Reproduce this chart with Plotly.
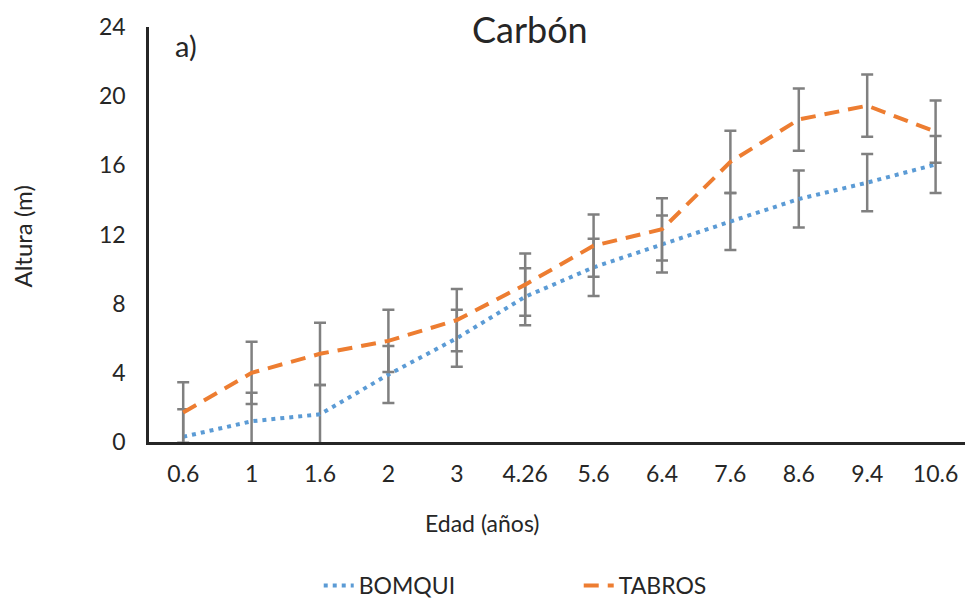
import plotly.graph_objects as go

# ---- data ----
edad = ["0.6", "1", "1.6", "2", "3", "4.26", "5.6", "6.4", "7.6", "8.6", "9.4", "10.6"]
bomqui = [0.3, 1.2, 1.6, 3.9, 6.0, 8.4, 10.1, 11.45, 12.75, 14.05, 15.0, 16.05]
bomqui_err = [1.6, 1.65, 1.7, 1.65, 1.65, 1.65, 1.65, 1.65, 1.65, 1.65, 1.65, 1.65]
tabros = [1.7, 4.0, 5.1, 5.85, 7.05, 9.1, 11.35, 12.3, 16.2, 18.65, 19.45, 17.95]
tabros_err = [1.75, 1.8, 1.8, 1.8, 1.8, 1.8, 1.8, 1.8, 1.8, 1.8, 1.8, 1.8]
y_ticks = [0, 4, 8, 12, 16, 20, 24]

FONT = "Lato"
TXT = "#262626"
ERR = "#808080"

fig = go.Figure()
fig.add_trace(go.Scatter(
    x=edad, y=bomqui, name="BOMQUI", mode="lines",
    line=dict(color="#5B9BD5", width=4, dash="4px,5px"),
    error_y=dict(type="data", array=bomqui_err, visible=True,
                 color=ERR, thickness=2.5, width=6),
))
fig.add_trace(go.Scatter(
    x=edad, y=tabros, name="TABROS", mode="lines",
    line=dict(color="#ED7D31", width=4, dash="15px,9px"),
    error_y=dict(type="data", array=tabros_err, visible=True,
                 color=ERR, thickness=2.5, width=6),
))

fig.update_layout(
    width=965, height=600,
    margin=dict(l=149, r=0, t=27, b=158, autoexpand=False),
    paper_bgcolor="white", plot_bgcolor="white",
    font=dict(family=FONT, size=23, color=TXT),
    showlegend=True,
    legend=dict(orientation="h", xref="paper", yref="container",
                x=0.208, y=0.06, xanchor="left", yanchor="top",
                entrywidth=215, entrywidthmode="pixels",
                font=dict(family=FONT, size=23, color=TXT),
                itemclick=False),
    xaxis=dict(
        type="category", categoryorder="array", categoryarray=edad,
        range=[-0.5, 11.43], automargin=False,
        showline=True, linecolor="#262626", linewidth=2.5,
        showgrid=False, zeroline=False,
        ticks="outside", ticklen=0, ticklabelstandoff=10,
        tickfont=dict(family=FONT, size=23, color=TXT),
    ),
    yaxis=dict(
        range=[0, 24], tickvals=y_ticks, automargin=False,
        showline=True, linecolor="#262626", linewidth=2.5,
        showgrid=False, zeroline=False,
        ticks="outside", ticklen=0, ticklabelstandoff=16,
        tickfont=dict(family=FONT, size=23, color=TXT),
    ),
    annotations=[
        dict(text="Carbón", xref="paper", yref="paper", x=0.467, y=1.0,
             yshift=-2, xanchor="center", yanchor="middle", showarrow=False,
             font=dict(family=FONT, size=36, color=TXT)),
        dict(text="a)", xref="paper", yref="paper", x=0.0, y=1.0,
             xshift=37, yshift=-18, xanchor="center", yanchor="middle",
             showarrow=False, font=dict(family=FONT, size=29, color=TXT)),
        dict(text="Altura (m)", xref="paper", yref="paper", x=0.0, y=0.495,
             xshift=-126, textangle=-90, xanchor="center", yanchor="middle",
             showarrow=False, font=dict(family=FONT, size=24, color=TXT)),
        dict(text="Edad (años)", xref="paper", yref="paper", x=0.408, y=0.0,
             yshift=-81, xanchor="center", yanchor="middle",
             showarrow=False, font=dict(family=FONT, size=23, color=TXT)),
    ],
)

fig.write_html("out.html", config={"displayModeBar": False},
               post_script="document.body.style.margin='0px';document.body.style.overflow='hidden';")
